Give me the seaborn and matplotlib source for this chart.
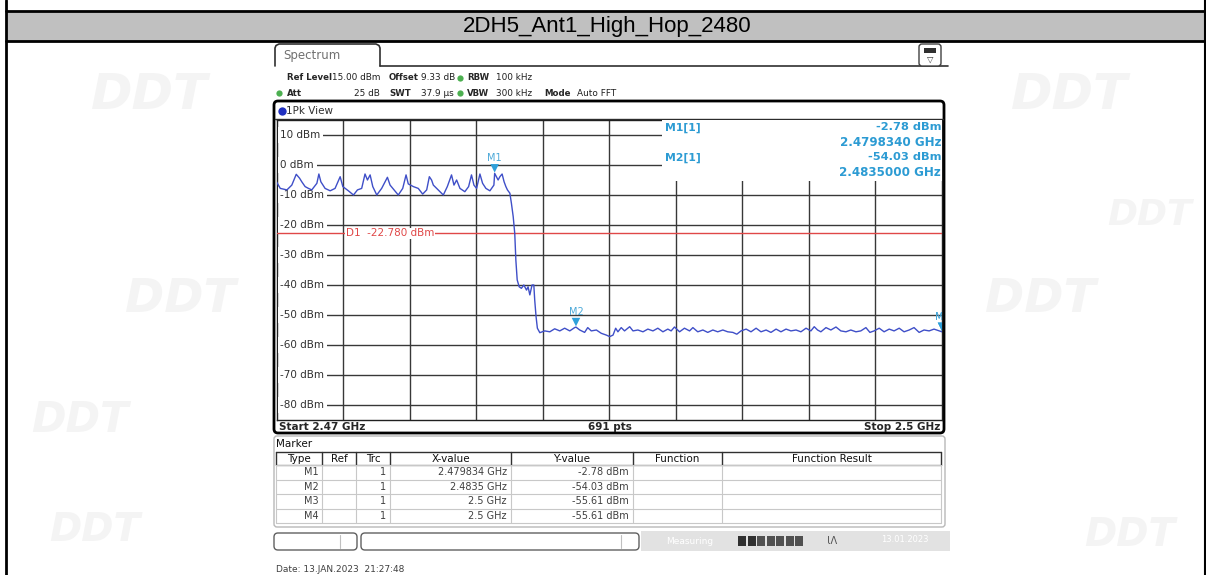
import numpy as np
import pandas as pd
import matplotlib
matplotlib.use("Agg")
import matplotlib.pyplot as plt
import seaborn as sns
from matplotlib.patches import FancyBboxPatch, Rectangle
import matplotlib.transforms as mtransforms

sns.set_theme(style="white")
plt.rcParams['font.family'] = ['DejaVu Sans']

# ---------------- data ----------------
title = "2DH5_Ant1_High_Hop_2480"

freq_mhz = [
    2470.00, 2470.17, 2470.47, 2470.69, 2470.89, 2471.04, 2471.14, 2471.29, 2471.44, 2471.59,
    2471.82, 2471.91, 2472.00, 2472.19, 2472.42, 2472.64, 2472.87, 2472.99, 2473.24, 2473.47,
    2473.65, 2473.84, 2473.99, 2474.10, 2474.22, 2474.34, 2474.52, 2474.74, 2475.00, 2475.12,
    2475.30, 2475.49, 2475.69, 2475.84, 2475.94, 2476.17, 2476.39, 2476.59, 2476.77, 2476.89,
    2476.99, 2477.07, 2477.29, 2477.52, 2477.70, 2477.89, 2478.00, 2478.12, 2478.27, 2478.49,
    2478.66, 2478.79, 2478.90, 2479.02, 2479.17, 2479.29, 2479.44, 2479.62, 2479.80, 2479.834,
    2479.99, 2480.07, 2480.17, 2480.26, 2480.34, 2480.41, 2480.52, 2480.59, 2480.67, 2480.74,
    2480.79, 2480.85, 2480.94, 2481.04, 2481.15, 2481.27, 2481.34, 2481.42, 2481.52, 2481.60,
    2481.64, 2481.70, 2481.76, 2481.87,
    2482.09, 2482.32, 2482.54, 2482.77, 2482.99, 2483.22, 2483.44, 2483.50, 2483.67, 2483.89,
    2484.03, 2484.19, 2484.42, 2484.64, 2484.87, 2485.02, 2485.17, 2485.29, 2485.39, 2485.54,
    2485.69, 2485.92, 2486.07, 2486.29, 2486.52, 2486.74, 2486.97, 2487.19, 2487.42, 2487.64,
    2487.79, 2487.94, 2488.17, 2488.39, 2488.62, 2488.77, 2488.99, 2489.22, 2489.44, 2489.67,
    2489.89, 2490.12, 2490.34, 2490.57, 2490.75, 2490.94, 2491.17, 2491.39, 2491.62, 2491.84,
    2492.07, 2492.29, 2492.52, 2492.74, 2492.97, 2493.19, 2493.42, 2493.64, 2493.87, 2494.09,
    2494.24, 2494.39, 2494.54, 2494.77, 2494.99, 2495.22, 2495.44, 2495.67, 2495.89, 2496.12,
    2496.34, 2496.57, 2496.75, 2496.94, 2497.17, 2497.39, 2497.62, 2497.84, 2498.07, 2498.29,
    2498.52, 2498.74, 2498.97, 2499.19, 2499.42, 2499.64, 2499.87, 2500.00,
]
level_dbm = [
    -5.6, -7.8, -8.3, -6.7, -3.1, -4.4, -5.6, -7.2, -7.8, -8.3,
    -6.1, -3.0, -5.6, -7.8, -8.6, -7.8, -3.9, -7.2, -8.6, -10.0,
    -8.3, -7.8, -3.0, -5.0, -3.3, -7.2, -10.0, -7.8, -4.1, -6.7,
    -8.3, -10.0, -7.8, -3.3, -6.3, -7.2, -7.8, -9.7, -8.3, -3.9,
    -5.0, -6.7, -8.3, -10.0, -7.2, -3.3, -6.7, -5.0, -7.8, -8.9,
    -7.2, -3.3, -6.7, -7.8, -3.0, -6.1, -7.8, -8.6, -6.7, -2.78,
    -5.0, -3.9, -3.0, -5.6, -7.2, -8.3, -9.4, -12.8, -17.2, -22.8,
    -31.7, -38.3, -40.6, -41.1, -40.0, -41.7, -40.6, -43.3, -40.0, -40.0,
    -45.0, -50.5, -54.4, -55.9,
    -55.3, -55.6, -54.6, -55.3, -54.4, -55.3, -54.2, -54.03, -55.0, -55.8,
    -54.2, -55.3, -55.0, -56.1, -56.7, -57.2, -56.7, -54.4, -55.6, -54.2,
    -55.3, -53.9, -55.3, -55.0, -55.6, -54.7, -55.3, -54.4, -55.6, -54.7,
    -55.3, -54.0, -55.6, -54.4, -55.3, -54.2, -55.6, -55.0, -55.8, -55.0,
    -55.6, -55.0, -55.6, -55.8, -56.4, -55.3, -54.7, -55.6, -54.4, -55.6,
    -55.0, -55.8, -54.7, -55.6, -54.7, -55.3, -55.0, -55.6, -54.4, -55.3,
    -53.9, -55.0, -55.6, -54.2, -55.0, -54.0, -55.3, -55.6, -55.0, -55.6,
    -55.3, -54.2, -55.8, -55.3, -54.4, -55.6, -54.7, -55.3, -54.4, -55.6,
    -55.0, -54.2, -55.8, -55.0, -55.3, -54.7, -55.3, -55.61,
]

start_mhz, stop_mhz = 2470.0, 2500.0
ref_level, bottom_level = 15.0, -85.0
y_grid_dbm = [10, 0, -10, -20, -30, -40, -50, -60, -70, -80]
x_grid_mhz = [2473, 2476, 2479, 2482, 2485, 2488, 2491, 2494, 2497]
display_line_dbm = -22.78
display_line_label = "D1  -22.780 dBm"

marker_names = ["M1", "M2", "M3", "M4"]
marker_freq_mhz = [2479.834, 2483.5, 2500.0, 2500.0]
marker_level_dbm = [-2.78, -54.03, -55.61, -55.61]
marker_x_text = ["2.479834 GHz", "2.4835 GHz", "2.5 GHz", "2.5 GHz"]
marker_y_text = ["-2.78 dBm", "-54.03 dBm", "-55.61 dBm", "-55.61 dBm"]
marker_trc = ["1", "1", "1", "1"]
info_lines = [("M1[1]", "-2.78 dBm", "2.4798340 GHz"), ("M2[1]", "-54.03 dBm", "2.4835000 GHz")]
table_headers = ["Type", "Ref", "Trc", "X-value", "Y-value", "Function", "Function Result"]

# ---------------- figure ----------------
W, H = 1206, 575
fig = plt.figure(figsize=(W / 100, H / 100), dpi=100)
fig.patch.set_facecolor("white")

bg = fig.add_axes([0, 0, 1, 1], zorder=0)
bg.set_xlim(0, W); bg.set_ylim(H, 0); bg.axis("off")

# faint watermark logos
for (wx, wy, ws) in [(150, 95, 36), (1070, 95, 36), (180, 300, 34), (1040, 300, 34),
                     (80, 420, 30), (1150, 215, 26), (95, 530, 28), (1130, 535, 28)]:
    bg.text(wx, wy, "DDT", fontsize=ws, fontstyle="italic", fontweight="bold",
            color="#f4f4f4", ha="center", va="center", zorder=0)

# outer document frame + title band
bg.add_patch(Rectangle((6, 11), W - 6, 30, facecolor="#c0c0c0", edgecolor="none", zorder=1))
bg.plot([6, W], [11, 11], color="black", lw=2, zorder=2)
bg.plot([6, W], [41, 41], color="black", lw=2, zorder=2)
bg.plot([6, 6], [0, H], color="black", lw=2, zorder=2)
bg.plot([1204.5, 1204.5], [0, H], color="black", lw=1.5, zorder=2)
bg.text(607, 26.5, title, fontsize=16, family=["Liberation Sans", "DejaVu Sans"],
        ha="center", va="center", color="black", zorder=3)

# Spectrum tab
bg.plot([275, 275, 276, 279, 376, 379, 380, 380], [66, 48, 45.5, 44, 44, 45.5, 48, 66],
        color="#303030", lw=1.2, zorder=2)
bg.plot([380, 948], [66, 66], color="#303030", lw=1.2, zorder=2)
bg.text(283, 56, "Spectrum", fontsize=8.5, color="#707070", ha="left", va="center", zorder=3)
# icon
bg.add_patch(FancyBboxPatch((919, 44), 22, 22, boxstyle="round,pad=0,rounding_size=3",
                            facecolor="white", edgecolor="#404040", lw=1, zorder=2))
bg.add_patch(Rectangle((924, 48), 12, 5, facecolor="#303030", edgecolor="none", zorder=3))
bg.text(930, 59, "\u25BD", fontsize=6, ha="center", va="center", color="#303030", zorder=3)

# settings rows
fsb, fsr = 6.2, 6.4
row1, row2 = 78, 93
bg.text(287, row1, "Ref Level", fontsize=fsb, fontweight="bold", va="center")
bg.text(380, row1, "15.00 dBm", fontsize=fsr, va="center", ha="right", color="#202020")
bg.text(389, row1, "Offset", fontsize=fsb, fontweight="bold", va="center")
bg.text(421, row1, "9.33 dB", fontsize=fsr, va="center", color="#202020")
bg.text(467, row1, "RBW", fontsize=fsb, fontweight="bold", va="center")
bg.text(496, row1, "100 kHz", fontsize=fsr, va="center", color="#202020")
bg.text(287, row2, "Att", fontsize=fsb, fontweight="bold", va="center")
bg.text(380, row2, "25 dB", fontsize=fsr, va="center", ha="right", color="#202020")
bg.text(389, row2, "SWT", fontsize=fsb, fontweight="bold", va="center")
bg.text(421, row2, "37.9 \u00b5s", fontsize=fsr, va="center", color="#202020")
bg.text(467, row2, "VBW", fontsize=fsb, fontweight="bold", va="center")
bg.text(496, row2, "300 kHz", fontsize=fsr, va="center", color="#202020")
bg.text(544, row2, "Mode", fontsize=fsb, fontweight="bold", va="center")
bg.text(577, row2, "Auto FFT", fontsize=fsr, va="center", color="#202020")
for (dx, dy) in [(460, row1), (279, row2), (460, row2)]:
    bg.plot([dx], [dy], marker="o", ms=4.5, color="#4caf50", mec="none", zorder=3)

# measurement window frame
bg.add_patch(FancyBboxPatch((274, 101), 670, 332, boxstyle="round,pad=0,rounding_size=4",
                            facecolor="white", edgecolor="black", lw=2, zorder=1))
bg.plot([275, 943], [118.5, 118.5], color="#303030", lw=1, zorder=2)
bg.plot([282], [110.5], marker="o", ms=6, color="#2030c0", mec="none", zorder=3)
bg.text(286, 110.5, "1Pk View", fontsize=7.5, va="center", color="#303030", zorder=3)
bg.text(279, 426.5, "Start 2.47 GHz", fontsize=7.5, fontweight="bold", va="center", zorder=3)
bg.text(610, 426.5, "691 pts", fontsize=7.5, fontweight="bold", va="center", ha="center", zorder=3)
bg.text(940, 426.5, "Stop 2.5 GHz", fontsize=7.5, fontweight="bold", va="center", ha="right", zorder=3)

# marker table panel
bg.add_patch(FancyBboxPatch((274, 436), 671, 91, boxstyle="round,pad=0,rounding_size=3",
                            facecolor="white", edgecolor="#b8b8b8", lw=1, zorder=1))
bg.text(276, 444, "Marker", fontsize=7.5, va="center", color="#101010", zorder=3)
cols = [276, 322, 356, 390, 511, 633, 722, 941]
hy0, hy1 = 452, 465
rh = 14.5
nrows = len(marker_names)
ty1 = hy1 + rh * nrows
bg.plot([cols[0], cols[-1]], [hy0, hy0], color="#303030", lw=1, zorder=2)
bg.plot([cols[0], cols[-1]], [hy1, hy1], color="#909090", lw=1, zorder=2)
for cx in cols:
    bg.plot([cx, cx], [hy0, hy1], color="#303030", lw=1, zorder=2)
    bg.plot([cx, cx], [hy1, ty1], color="#c8c8c8", lw=0.8, zorder=2)
for i in range(nrows + 1):
    yy = hy1 + rh * i
    bg.plot([cols[0], cols[-1]], [yy, yy], color="#c8c8c8", lw=0.8, zorder=2)
for j, hname in enumerate(table_headers):
    bg.text((cols[j] + cols[j + 1]) / 2, (hy0 + hy1) / 2 + 0.5, hname, fontsize=7.5,
            ha="center", va="center", color="#101010", zorder=3)
for i in range(nrows):
    yc = hy1 + rh * i + rh / 2
    kw = dict(fontsize=7, va="center", ha="right", color="#404040", zorder=3)
    bg.text(cols[1] - 3, yc, marker_names[i], **kw)
    bg.text(cols[3] - 4, yc, marker_trc[i], **kw)
    bg.text(cols[4] - 4, yc, marker_x_text[i], **kw)
    bg.text(cols[5] - 4, yc, marker_y_text[i], **kw)

# status bar
bg.add_patch(FancyBboxPatch((274, 533), 83, 17, boxstyle="round,pad=0,rounding_size=4",
                            facecolor="white", edgecolor="#606060", lw=1, zorder=1))
bg.plot([340, 340], [535, 548], color="#c0c0c0", lw=0.8, zorder=2)
bg.add_patch(FancyBboxPatch((361, 533), 278, 17, boxstyle="round,pad=0,rounding_size=4",
                            facecolor="white", edgecolor="#606060", lw=1, zorder=1))
bg.plot([621, 621], [535, 548], color="#c0c0c0", lw=0.8, zorder=2)
bg.add_patch(Rectangle((641, 531), 309, 20, facecolor="#e2e2e2", edgecolor="none", zorder=1))
bg.text(690, 541, "Measuring", fontsize=6.5, ha="center", va="center", color="white", zorder=3)
for k in range(7):
    bg.add_patch(Rectangle((738 + k * 9.5, 536), 8, 10,
                           facecolor="#303030" if k < 2 else "#505050", edgecolor="none", zorder=2))
bg.text(832, 541, "\u0196\u0245", fontsize=7, ha="center", va="center", color="#505050", zorder=3)
bg.text(905, 539, "13.01.2023", fontsize=6, ha="center", va="center", color="white", zorder=3)

bg.text(276, 569, "Date: 13.JAN.2023  21:27:48", fontsize=6.5, va="center", color="#404040", zorder=3)

# ---------------- graticule ----------------
gx0, gx1, gy0, gy1 = 276.5, 942.0, 120.0, 420.0
ax = fig.add_axes([gx0 / W, 1 - gy1 / H, (gx1 - gx0) / W, (gy1 - gy0) / H], zorder=2)
ax.set_facecolor("white")
ax.set_xlim(start_mhz, stop_mhz)
ax.set_ylim(bottom_level, ref_level)
ax.set_xticks(x_grid_mhz)
ax.set_yticks(y_grid_dbm)
ax.tick_params(length=0, labelbottom=False, labelleft=False)
ax.set_axisbelow(True)
ax.grid(True, color="#383838", lw=1.0)
for sp in ax.spines.values():
    sp.set_color("#202020"); sp.set_linewidth(1.0)


def fx(px):
    return (px - gx0) / (gx1 - gx0)


def fy(py):
    return (gy1 - py) / (gy1 - gy0)


ylab_tr = mtransforms.blended_transform_factory(ax.transAxes, ax.transData)
for v in y_grid_dbm:
    ax.text(fx(280.5), v, f"{v} dBm", transform=ylab_tr, fontsize=7.5, ha="left", va="center",
            color="#303030", zorder=3,
            bbox=dict(facecolor="white", edgecolor="none", boxstyle="square,pad=0.25"))

# display line
ax.axhline(display_line_dbm, color="#e04848", lw=1.0, zorder=4)
ax.text(fx(346), display_line_dbm, display_line_label, transform=ylab_tr, fontsize=7.5,
        ha="left", va="center", color="#e04848", zorder=4,
        bbox=dict(facecolor="white", edgecolor="none", pad=0.4))

# marker info area
ax.add_patch(Rectangle((fx(662), fy(181)), 1 - fx(662), 1 - fy(181), transform=ax.transAxes,
                       facecolor="white", edgecolor="none", zorder=3))
info_col = "#2c9bd3"
for i, (nm, lv, fq) in enumerate(info_lines):
    y1 = 127.5 + i * 30
    ax.text(fx(665), fy(y1), nm, transform=ax.transAxes, fontsize=7.8, fontweight="bold",
            color=info_col, ha="left", va="center", zorder=4)
    ax.text(fx(941), fy(y1), lv, transform=ax.transAxes, fontsize=8.2, fontweight="bold",
            color=info_col, ha="right", va="center", zorder=4)
    ax.text(fx(941), fy(y1 + 15), fq, transform=ax.transAxes, fontsize=8.6, fontweight="bold",
            color=info_col, ha="right", va="center", zorder=4)

# trace
trace = pd.DataFrame({"freq": freq_mhz, "level": level_dbm})
sns.lineplot(data=trace, x="freq", y="level", ax=ax, color="#3f4fc8", lw=1.0,
             estimator=None, sort=False, zorder=5)
ax.set_xlabel(""); ax.set_ylabel("")

# markers
mk = pd.DataFrame({"freq": marker_freq_mhz, "level": marker_level_dbm, "name": marker_names})
mk_tr = mtransforms.offset_copy(ax.transData, fig=fig, x=0, y=5, units="dots")
sns.scatterplot(data=mk, x="freq", y="level", ax=ax, marker="v", s=38, color="#2fa0da",
                edgecolor="none", transform=mk_tr, zorder=6, legend=False)
ax.set_xlabel(""); ax.set_ylabel("")
for nm, f, lv in zip(marker_names, marker_freq_mhz, marker_level_dbm):
    t = ax.annotate(nm, (f, lv), xytext=(0, 15), textcoords="offset pixels", ha="center",
                    va="center", fontsize=7, color="#4aa8d8", zorder=6, annotation_clip=False)
    t.set_clip_on(True)
    t.set_clip_box(ax.bbox)

fig.savefig("out.png", dpi=100, facecolor="white")
